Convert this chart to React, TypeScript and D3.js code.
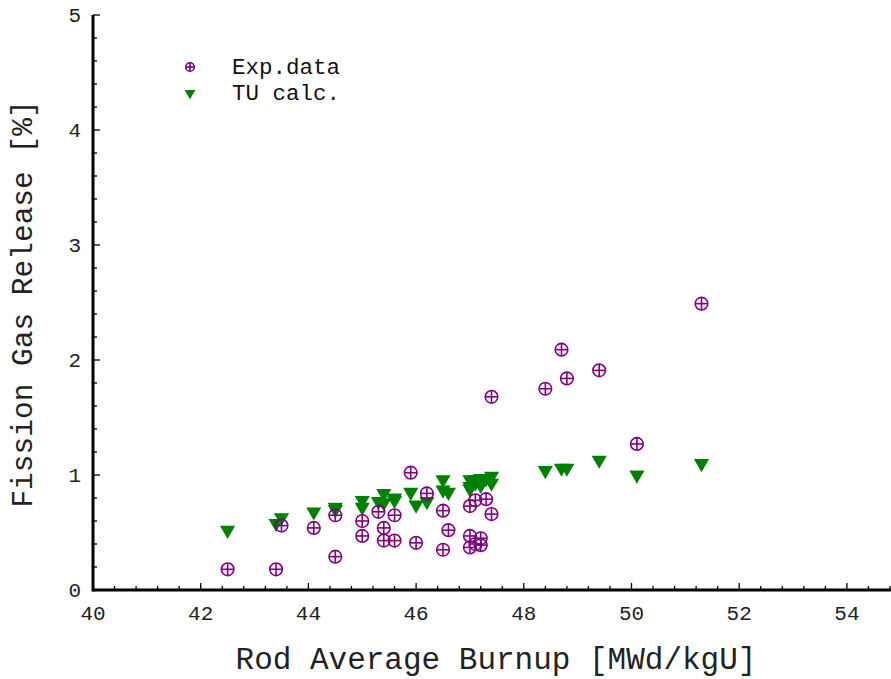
import React from "react";
import { scaleLinear, range, symbol, symbolTriangle } from "d3";

const W = 891;
const H = 679;
const MARGIN = { top: 15, right: 0, bottom: 89, left: 93 };
const FONT = "'Liberation Mono', 'DejaVu Sans Mono', monospace";

// Exp.data: burnup [MWd/kgU] and measured release [%]
const expBurnup = [
  42.5, 43.4, 43.5, 44.1, 44.5, 44.5, 45.0, 45.0, 45.3, 45.4, 45.4, 45.6, 45.6,
  45.9, 46.0, 46.2, 46.5, 46.5, 46.6, 47.0, 47.0, 47.0, 47.1, 47.1, 47.2, 47.2,
  47.3, 47.4, 47.4, 48.4, 48.7, 48.8, 49.4, 50.1, 51.3,
];
const expRelease = [
  0.18, 0.18, 0.56, 0.54, 0.29, 0.65, 0.6, 0.47, 0.68, 0.54, 0.43, 0.65, 0.43,
  1.02, 0.41, 0.84, 0.69, 0.35, 0.52, 0.73, 0.47, 0.37, 0.78, 0.4, 0.45, 0.39,
  0.79, 0.66, 1.68, 1.75, 2.09, 1.84, 1.91, 1.27, 2.49,
];

// TU calc. results
const calcBurnup = [
  42.5, 43.4, 43.5, 44.1, 44.5, 44.5, 45.0, 45.0, 45.3, 45.4, 45.4, 45.6, 45.6,
  45.9, 46.0, 46.2, 46.5, 46.5, 46.6, 47.0, 47.0, 47.0, 47.1, 47.1, 47.2, 47.2,
  47.3, 47.4, 47.4, 48.4, 48.7, 48.8, 49.4, 50.1, 51.3,
];
const calcRelease = [
  0.52, 0.58, 0.63, 0.68, 0.72, 0.7, 0.78, 0.72, 0.77, 0.84, 0.76, 0.78, 0.8,
  0.85, 0.74, 0.77, 0.96, 0.87, 0.85, 0.96, 0.88, 0.9, 0.96, 0.93, 0.91, 0.97,
  0.97, 0.99, 0.93, 1.04, 1.06, 1.06, 1.13, 1.0, 1.1,
];

const xTicks = [40, 42, 44, 46, 48, 50, 52, 54];
const yTicks = [0, 1, 2, 3, 4, 5];
const legendLabels = ["Exp.data", "TU calc."];

const PURPLE = "#800080";
const GREEN = "#008000";

function CrossCircle({ cx, cy, r }: { cx: number; cy: number; r: number }) {
  return (
    <g stroke={PURPLE} strokeWidth={1.6} fill="none">
      <circle cx={cx} cy={cy} r={r} />
      <line x1={cx - r} x2={cx + r} y1={cy} y2={cy} />
      <line x1={cx} x2={cx} y1={cy - r} y2={cy + r} />
    </g>
  );
}

function DownTriangle({ cx, cy, size }: { cx: number; cy: number; size: number }) {
  const path = symbol(symbolTriangle, size)() || "";
  return <path d={path} transform={`translate(${cx},${cy}) rotate(180)`} fill={GREEN} />;
}

export default function App() {
  const boundsW = W - MARGIN.left - MARGIN.right;
  const boundsH = H - MARGIN.top - MARGIN.bottom;

  const xScale = scaleLinear().domain([40, 40 + boundsW / 53.85]).range([0, boundsW]);
  const yScale = scaleLinear().domain([0, 5]).range([boundsH, 0]);

  const xMinor = range(40, 54.81, 0.4).filter((v) => Math.abs(v / 2 - Math.round(v / 2)) > 1e-6);
  const yMinor = range(0, 5.001, 0.2).filter((v) => Math.abs(v - Math.round(v)) > 1e-6);

  return (
    <svg
      width={W}
      height={H}
      style={{ position: "absolute", left: 0, top: 0, background: "#fff" }}
      fontFamily={FONT}
    >
      <g transform={`translate(${MARGIN.left}, ${MARGIN.top})`}>
        {/* points */}
        {calcBurnup.map((b, i) => (
          <DownTriangle key={"c" + i} cx={xScale(b)} cy={yScale(calcRelease[i])} size={100} />
        ))}
        {expBurnup.map((b, i) => (
          <CrossCircle key={"e" + i} cx={xScale(b)} cy={yScale(expRelease[i])} r={6.3} />
        ))}

        {/* axes */}
        <line x1={0} x2={boundsW} y1={boundsH} y2={boundsH} stroke="#000" strokeWidth={3} />
        <line x1={0} x2={0} y1={0} y2={boundsH + 1.5} stroke="#000" strokeWidth={3} />

        {xTicks.map((t) => (
          <g key={"xt" + t}>
            <line x1={xScale(t)} x2={xScale(t)} y1={boundsH} y2={boundsH - 7} stroke="#000" strokeWidth={1.3} />
            <text x={xScale(t)} y={boundsH + 30} textAnchor="middle" fontSize={21} fill="#222">
              {t}
            </text>
          </g>
        ))}
        {xMinor.map((t, i) => (
          <line key={"xm" + i} x1={xScale(t)} x2={xScale(t)} y1={boundsH} y2={boundsH - 4} stroke="#000" strokeWidth={1.3} />
        ))}

        {yTicks.map((t) => (
          <g key={"yt" + t}>
            <line x1={0} x2={7} y1={yScale(t)} y2={yScale(t)} stroke="#000" strokeWidth={1.3} />
            <text x={-12} y={yScale(t) + 7} textAnchor="end" fontSize={21} fill="#222">
              {t}
            </text>
          </g>
        ))}
        {yMinor.map((t, i) => (
          <line key={"ym" + i} x1={0} x2={4} y1={yScale(t)} y2={yScale(t)} stroke="#000" strokeWidth={1.3} />
        ))}

        {/* legend */}
        <CrossCircle cx={97} cy={52} r={4.3} />
        <text x={139} y={59} fontSize={22.5} fill="#111">
          {legendLabels[0]}
        </text>
        <DownTriangle cx={97} cy={78} size={50} />
        <text x={139} y={85} fontSize={22.5} fill="#111">
          {legendLabels[1]}
        </text>
      </g>

      {/* axis titles */}
      <text x={496} y={669} textAnchor="middle" fontSize={31} fill="#222">
        Rod Average Burnup [MWd/kgU]
      </text>
      <text
        transform={`translate(32, 304) rotate(-90)`}
        textAnchor="middle"
        fontSize={29.5}
        fill="#222"
      >
        Fission Gas Release [%]
      </text>
    </svg>
  );
}
